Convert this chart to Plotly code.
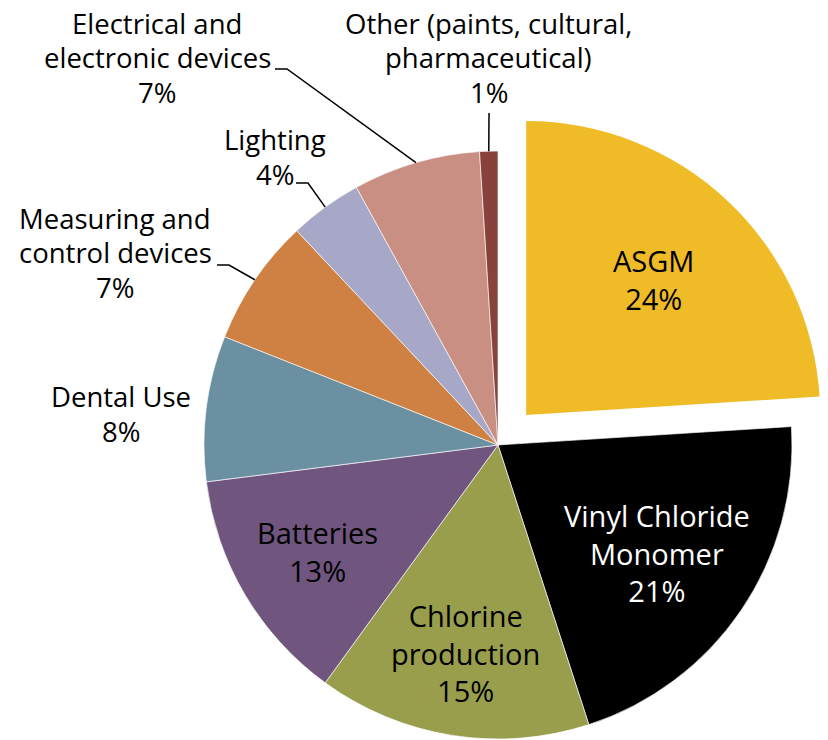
import math
import plotly.graph_objects as go

# ---------------- data ----------------
categories = ["ASGM", "Vinyl Chloride Monomer", "Chlorine production", "Batteries", "Dental Use",
              "Measuring and control devices", "Lighting", "Electrical and electronic devices",
              "Other (paints, cultural, pharmaceutical)"]
display_labels = ["ASGM", "Vinyl Chloride<br>Monomer", "Chlorine<br>production", "Batteries", "Dental Use",
                  "Measuring and<br>control devices", "Lighting", "Electrical and<br>electronic devices",
                  "Other (paints, cultural,<br>pharmaceutical)"]
values = [24, 21, 15, 13, 8, 7, 4, 7, 1]
colors = ["#EFBB27", "#000000", "#989E4C", "#70567F", "#6B90A2", "#CE8142", "#A7A7C8", "#CA8F83", "#88423B"]
text_colors = ["black", "white", "black", "black", "black", "black", "black", "black", "black"]

# ---------------- layout constants ----------------
W, H = 828, 740
CX, CY, R = 498, 445, 294          # pie centre & radius in px
PULL = 0.14                        # pull-out of first slice (fraction of radius)
FONT = "Open Sans"
FS_OUT = 27.5
LINE_GAP = 34.5                    # px between baselines of outside labels
FS_IN = 29
# inside labels: radial position (fraction of radius) along each slice's bisector
inside_r = {0: 0.633, 1: 0.653, 2: 0.715, 3: 0.712}
# outside labels: text-block centre (px) and leader-line start
label_pos = {4: (121, 414), 5: (115, 253), 6: (275, 157), 7: (157, 58), 8: (489, 58)}
leader_start = {5: (217, 265), 6: (296, 183), 7: (275, 69)}
leader_vertical = {8: (489, 113)}

total = sum(values)
pct_text = [f"{v / total * 100:.0f}%" for v in values]


def domain_for(cx, cy, r):
    xw = 2 * r / W
    yh = 2 * r / H
    xs = 2 * cx / W
    ys = 2 - 2 * cy / H
    return dict(x=[(xs - xw) / 2, (xs + xw) / 2], y=[(ys - yh) / 2, (ys + yh) / 2])


def px(x, y):
    return x / W, 1 - y / H


# main pie (first slice left transparent; drawn pulled-out by second trace)
main_colors = ["rgba(0,0,0,0)"] + colors[1:]
fig = go.Figure()
fig.add_trace(go.Pie(
    labels=categories, values=values, sort=False, direction="clockwise", rotation=0,
    marker=dict(colors=main_colors, line=dict(color="rgba(255,255,255,0.8)", width=0.8)),
    textinfo="none", domain=domain_for(CX, CY, R), showlegend=False, hoverinfo="label+percent",
))

# pulled-out first slice
mid0 = math.radians(360 * values[0] / total / 2)
pdx = PULL * R * math.sin(mid0)
pdy = PULL * R * math.cos(mid0)
rest = total - values[0]
fig.add_trace(go.Pie(
    labels=[categories[0], "rest"], values=[values[0], rest], sort=False, direction="clockwise", rotation=0,
    marker=dict(colors=[colors[0], "rgba(0,0,0,0)"], line=dict(width=[0, 0])),
    textinfo="none", domain=domain_for(CX + pdx, CY - pdy, R), showlegend=False, hoverinfo="skip",
))

cum = 0
annotations, shapes = [], []
for i, v in enumerate(values):
    a0 = cum
    cum += v
    ang = math.radians(360 * (a0 + v / 2) / total)
    ccx, ccy = (CX + pdx, CY - pdy) if i == 0 else (CX, CY)
    if i in inside_r:
        f = inside_r[i]
        tx = ccx + f * R * math.sin(ang)
        ty = ccy - f * R * math.cos(ang)
        ax_, ay_ = px(tx, ty)
        annotations.append(dict(
            x=ax_, y=ay_, xref="paper", yref="paper", xanchor="center", yanchor="middle",
            text=f"{display_labels[i]}<br>{pct_text[i]}", showarrow=False,
            font=dict(family=FONT, size=FS_IN, color=text_colors[i])))
    if i in label_pos:
        lx, ly = label_pos[i]
        lines = display_labels[i].split("<br>") + [pct_text[i]]
        n = len(lines)
        for k, line in enumerate(lines):
            ax_, ay_ = px(lx, ly + (k - (n - 1) / 2) * LINE_GAP)
            annotations.append(dict(
                x=ax_, y=ay_, xref="paper", yref="paper", xanchor="center", yanchor="middle",
                text=line, showarrow=False,
                font=dict(family=FONT, size=FS_OUT, color=text_colors[i])))
    ex = CX + R * math.sin(ang)
    ey = CY - R * math.cos(ang)
    pts = None
    if i in leader_start:
        sx, sy = leader_start[i]
        pts = [(sx, sy), (sx + 12, sy), (ex, ey)]
    elif i in leader_vertical:
        sx, sy = leader_vertical[i]
        pts = [(sx, sy), (ex, ey)]
    if pts:
        path = "M " + " L ".join(f"{px(x, y)[0]:.5f},{px(x, y)[1]:.5f}" for x, y in pts)
        shapes.append(dict(type="path", path=path, xref="paper", yref="paper",
                           line=dict(color="black", width=1.5)))

fig.update_layout(
    width=W, height=H, margin=dict(l=0, r=0, t=0, b=0),
    paper_bgcolor="white", plot_bgcolor="white",
    annotations=annotations, shapes=shapes,
    font=dict(family=FONT, size=FS_OUT),
)

fig.write_html("out.html", config={"displayModeBar": False},
               post_script="document.body.style.margin='0';document.body.style.overflow='hidden';")
